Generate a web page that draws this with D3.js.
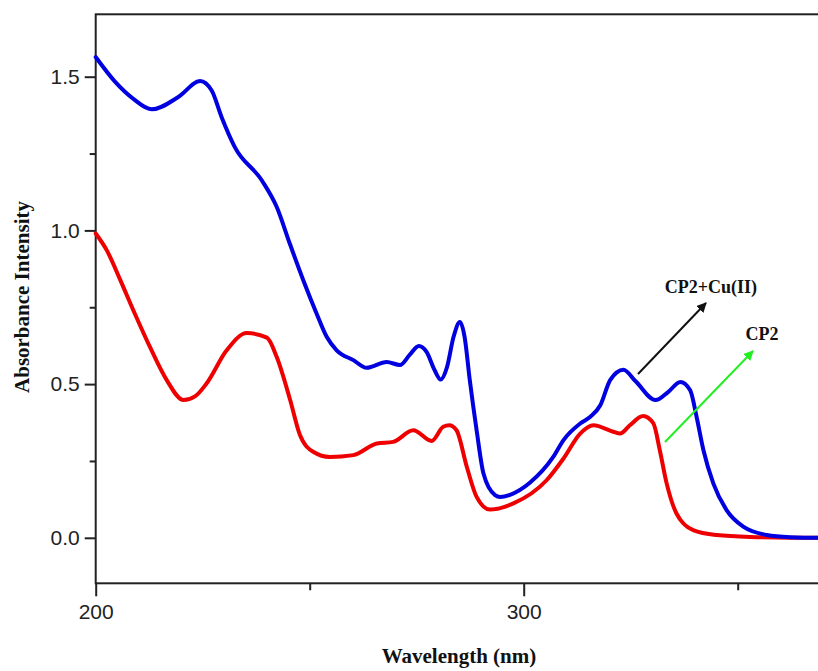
<!DOCTYPE html>
<html>
<head>
<meta charset="utf-8">
<script src="https://cdn.jsdelivr.net/npm/d3@7"></script>
<style>
  html, body { margin: 0; padding: 0; background: #fff; }
  svg { display: block; }
</style>
</head>
<body>
<svg id="chart" width="818" height="671"></svg>
<script>
// ---- DATA ----
const cuWavelength = [200.0, 204.5, 208.8, 213.1, 219.3, 224.4, 227.1, 229.4, 232.5, 238.8, 242.3, 245.4, 248.5, 251.6, 254.0, 256.3, 260.2, 263.3, 268.0, 271.1, 273.3, 275.5, 277.3, 279.2, 280.6, 282.1, 283.6, 285.1, 286.2, 287.4, 289.0, 290.6, 293.3, 294.5, 296.8, 301.5, 306.9, 309.3, 313.2, 315.5, 317.9, 320.2, 323.3, 326.1, 330.8, 333.8, 336.6, 338.9, 340.4, 342.0, 344.3, 347.4, 351.3, 356.8, 362.2, 368.8, 373.9];
const cuAbsorbance = [1.564, 1.484, 1.428, 1.394, 1.434, 1.486, 1.455, 1.369, 1.271, 1.163, 1.076, 0.955, 0.838, 0.730, 0.653, 0.610, 0.578, 0.553, 0.572, 0.562, 0.594, 0.624, 0.605, 0.545, 0.515, 0.556, 0.653, 0.702, 0.653, 0.513, 0.350, 0.209, 0.139, 0.133, 0.140, 0.180, 0.263, 0.318, 0.372, 0.393, 0.431, 0.513, 0.547, 0.510, 0.448, 0.475, 0.507, 0.480, 0.393, 0.285, 0.177, 0.090, 0.036, 0.009, 0.002, 0.0, 0.0];

const cp2Wavelength = [200.0, 202.6, 205.7, 208.8, 212.7, 216.6, 220.5, 223.2, 225.9, 230.6, 235.3, 240.0, 242.3, 245.4, 247.7, 250.8, 254.7, 260.2, 265.7, 269.5, 274.2, 278.5, 281.2, 282.6, 284.3, 286.7, 289.0, 292.1, 297.6, 305.4, 309.3, 313.2, 316.3, 320.9, 322.5, 324.8, 327.9, 330.3, 331.8, 333.4, 335.7, 339.6, 345.1, 352.9, 368.8, 373.9];
const cp2Absorbance = [0.990, 0.935, 0.840, 0.740, 0.620, 0.513, 0.448, 0.460, 0.502, 0.610, 0.666, 0.651, 0.588, 0.450, 0.335, 0.280, 0.263, 0.269, 0.307, 0.312, 0.350, 0.315, 0.361, 0.366, 0.350, 0.231, 0.133, 0.092, 0.112, 0.188, 0.258, 0.339, 0.366, 0.345, 0.339, 0.366, 0.396, 0.372, 0.285, 0.177, 0.079, 0.025, 0.009, 0.003, 0.0, 0.0];

const xMajorTicks = [200, 300];
const xMinorTicks = [250, 350];
const yMajorTicks = [0.0, 0.5, 1.0, 1.5];
const yMinorTicks = [0.25, 0.75, 1.25];

const xTitle = "Wavelength (nm)";
const yTitle = "Absorbance Intensity";
const labelCu = "CP2+Cu(II)";
const labelCP2 = "CP2";

// ---- LAYOUT ----
const svg = d3.select("#chart");
const mLeft = 95.7, mRight = 840, mTop = 14.3, mBottom = 583.3;
const x = d3.scaleLinear().domain([200, 200 + (mRight - mLeft) / 4.28]).range([mLeft, mRight]);
const y = d3.scaleLinear().domain([-0.148, 1.703]).range([mBottom, mTop]);

const tickFont = "'Liberation Sans', Arial, sans-serif";
const titleFont = "'Liberation Serif', 'Times New Roman', serif";

// frame
svg.append("rect")
  .attr("x", mLeft).attr("y", mTop)
  .attr("width", mRight - mLeft).attr("height", mBottom - mTop)
  .attr("fill", "none").attr("stroke", "#222").attr("stroke-width", 2);

// x axis
const xAxis = svg.append("g").attr("transform", `translate(0,${mBottom})`)
  .call(d3.axisBottom(x).tickValues(xMajorTicks).tickSize(13).tickPadding(8).tickFormat(d3.format("d")));
xAxis.append("g").call(d3.axisBottom(x).tickValues(xMinorTicks).tickSize(7).tickFormat(""));
xAxis.selectAll(".domain").remove();
xAxis.selectAll("line").attr("stroke", "#222").attr("stroke-width", 2);
xAxis.selectAll("text").attr("fill", "#222").style("font-family", tickFont).style("font-size", "21px");

// y axis
const yAxis = svg.append("g").attr("transform", `translate(${mLeft},0)`)
  .call(d3.axisLeft(y).tickValues(yMajorTicks).tickSize(11).tickPadding(5).tickFormat(d3.format(".1f")));
yAxis.append("g").call(d3.axisLeft(y).tickValues(yMinorTicks).tickSize(6).tickFormat(""));
yAxis.selectAll(".domain").remove();
yAxis.selectAll("line").attr("stroke", "#222").attr("stroke-width", 2);
yAxis.selectAll("text").attr("fill", "#222").style("font-family", tickFont).style("font-size", "21px");

// titles
svg.append("text")
  .attr("x", 459).attr("y", 663)
  .attr("text-anchor", "middle")
  .style("font-family", titleFont).style("font-weight", "bold").style("font-size", "21px")
  .attr("fill", "#111").text(xTitle);

svg.append("text")
  .attr("transform", "translate(29,297) rotate(-90)")
  .attr("text-anchor", "middle")
  .style("font-family", titleFont).style("font-weight", "bold").style("font-size", "21px")
  .attr("fill", "#111").text(yTitle);

// lines
const line = d3.line().x(d => x(d[0])).y(d => y(d[1])).curve(d3.curveMonotoneX);
const cuData = cuWavelength.map((w, i) => [w, cuAbsorbance[i]]);
const cp2Data = cp2Wavelength.map((w, i) => [w, cp2Absorbance[i]]);

svg.append("path").datum(cp2Data).attr("d", line)
  .attr("fill", "none").attr("stroke", "#ee0000").attr("stroke-width", 4)
  .attr("stroke-linejoin", "round").attr("stroke-linecap", "round");
svg.append("path").datum(cuData).attr("d", line)
  .attr("fill", "none").attr("stroke", "#0000e0").attr("stroke-width", 4)
  .attr("stroke-linejoin", "round").attr("stroke-linecap", "round");

// arrows
const defs = svg.append("defs");
function marker(id, color) {
  defs.append("marker").attr("id", id)
    .attr("viewBox", "0 0 10 10").attr("refX", 9).attr("refY", 5)
    .attr("markerWidth", 5).attr("markerHeight", 5).attr("orient", "auto")
    .append("path").attr("d", "M0,0 L10,5 L0,10 z").attr("fill", color);
}
marker("arrBlack", "#111");
marker("arrGreen", "#22ee22");

svg.append("line")
  .attr("x1", 638).attr("y1", 374).attr("x2", 706).attr("y2", 303)
  .attr("stroke", "#111").attr("stroke-width", 2).attr("marker-end", "url(#arrBlack)");
svg.append("line")
  .attr("x1", 665).attr("y1", 442).attr("x2", 753).attr("y2", 351)
  .attr("stroke", "#22ee22").attr("stroke-width", 2).attr("marker-end", "url(#arrGreen)");

svg.append("text").attr("x", 711).attr("y", 293).attr("text-anchor", "middle")
  .style("font-family", titleFont).style("font-weight", "bold").style("font-size", "18px")
  .attr("fill", "#111").text(labelCu);
svg.append("text").attr("x", 762).attr("y", 340).attr("text-anchor", "middle")
  .style("font-family", titleFont).style("font-weight", "bold").style("font-size", "18px")
  .attr("fill", "#111").text(labelCP2);
</script>
</body>
</html>
